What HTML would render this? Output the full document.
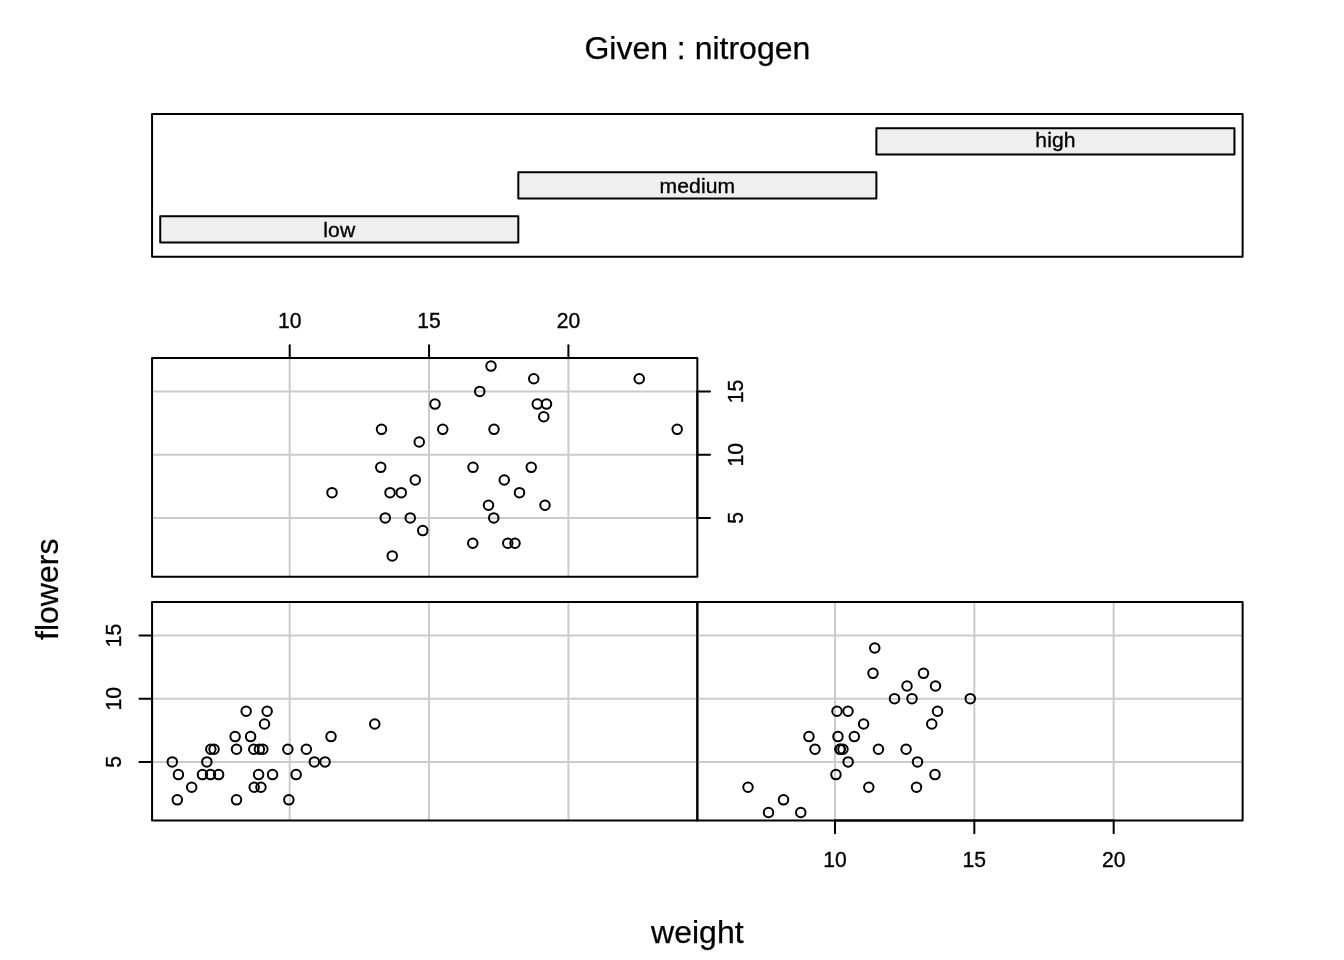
<!DOCTYPE html>
<html lang="en">
<head>
<meta charset="utf-8">
<title>Given : nitrogen</title>
<style>
html,body{margin:0;padding:0;background:#fff;}
svg{display:block;}
text{font-family:"Liberation Sans",Arial,Helvetica,sans-serif;fill:#000;}
.ax{font-size:21.12px;text-anchor:middle;stroke:#000;stroke-width:0.35px;}
.gl{letter-spacing:0.1px;}
.lab{font-size:32px;text-anchor:middle;stroke:#000;stroke-width:0.25px;}
.k{stroke:#000;stroke-width:2;fill:none;stroke-linecap:round;stroke-linejoin:round;}
.g{stroke:#cbcbcb;stroke-width:2;fill:none;stroke-linecap:round;}
.p{stroke:#000;stroke-width:2;fill:none;}
.bar{fill:#efefef;stroke:#000;stroke-width:2;stroke-linejoin:round;}
</style>
</head>
<body>
<svg width="1344" height="960" viewBox="0 0 1344 960">
<rect x="0" y="0" width="1344" height="960" fill="#fff"/>
<g id="given">
<rect class="bar" x="160.23" y="216.15" width="358.08" height="26.41"/>
<rect class="bar" x="518.31" y="172.14" width="358.08" height="26.41"/>
<rect class="bar" x="876.38" y="128.13" width="358.08" height="26.41"/>
<text class="ax gl" x="339.32" y="236.91">low</text>
<text class="ax gl" x="697.39" y="192.9">medium</text>
<text class="ax gl" x="1055.47" y="146.68">high</text>
<rect class="k" x="152.06" y="114.05" width="1090.56" height="142.59"/>
<text class="lab" x="697.34" y="58.89">Given : nitrogen</text>
</g>
<g id="panel-high">
<line class="g" x1="289.7" y1="358.02" x2="289.7" y2="576.64"/>
<line class="g" x1="429.05" y1="358.02" x2="429.05" y2="576.64"/>
<line class="g" x1="568.4" y1="358.02" x2="568.4" y2="576.64"/>
<line class="g" x1="152.06" y1="517.94" x2="697.34" y2="517.94"/>
<line class="g" x1="152.06" y1="454.68" x2="697.34" y2="454.68"/>
<line class="g" x1="152.06" y1="391.42" x2="697.34" y2="391.42"/>
<circle class="p" cx="491" cy="366.11" r="4.75"/>
<circle class="p" cx="533.75" cy="378.77" r="4.75"/>
<circle class="p" cx="639.25" cy="378.77" r="4.75"/>
<circle class="p" cx="479.75" cy="391.42" r="4.75"/>
<circle class="p" cx="435" cy="404.07" r="4.75"/>
<circle class="p" cx="537.25" cy="404.07" r="4.75"/>
<circle class="p" cx="546.5" cy="404.07" r="4.75"/>
<circle class="p" cx="543.75" cy="416.72" r="4.75"/>
<circle class="p" cx="381.5" cy="429.37" r="4.75"/>
<circle class="p" cx="442.75" cy="429.37" r="4.75"/>
<circle class="p" cx="494" cy="429.37" r="4.75"/>
<circle class="p" cx="677.2" cy="429.37" r="4.75"/>
<circle class="p" cx="419.25" cy="442.02" r="4.75"/>
<circle class="p" cx="380.75" cy="467.33" r="4.75"/>
<circle class="p" cx="473" cy="467.33" r="4.75"/>
<circle class="p" cx="531.25" cy="467.33" r="4.75"/>
<circle class="p" cx="415.25" cy="479.98" r="4.75"/>
<circle class="p" cx="504.25" cy="479.98" r="4.75"/>
<circle class="p" cx="332" cy="492.63" r="4.75"/>
<circle class="p" cx="390" cy="492.63" r="4.75"/>
<circle class="p" cx="401.25" cy="492.63" r="4.75"/>
<circle class="p" cx="519.5" cy="492.63" r="4.75"/>
<circle class="p" cx="488.5" cy="505.28" r="4.75"/>
<circle class="p" cx="545" cy="505.28" r="4.75"/>
<circle class="p" cx="385.25" cy="517.94" r="4.75"/>
<circle class="p" cx="410.25" cy="517.94" r="4.75"/>
<circle class="p" cx="493.75" cy="517.94" r="4.75"/>
<circle class="p" cx="422.75" cy="530.59" r="4.75"/>
<circle class="p" cx="472.75" cy="543.24" r="4.75"/>
<circle class="p" cx="507.75" cy="543.24" r="4.75"/>
<circle class="p" cx="515" cy="543.24" r="4.75"/>
<circle class="p" cx="392.25" cy="555.89" r="4.75"/>
</g>
<g id="axis-top">
<line class="k" x1="289.7" y1="358.02" x2="568.4" y2="358.02"/>
<line class="k" x1="289.7" y1="358.02" x2="289.7" y2="345.34"/>
<text class="ax" transform="translate(289.7 327.9) scale(1 1.045)">10</text>
<line class="k" x1="429.05" y1="358.02" x2="429.05" y2="345.34"/>
<text class="ax" transform="translate(429.05 327.9) scale(1 1.045)">15</text>
<line class="k" x1="568.4" y1="358.02" x2="568.4" y2="345.34"/>
<text class="ax" transform="translate(568.4 327.9) scale(1 1.045)">20</text>
</g>
<g id="axis-right">
<line class="k" x1="697.34" y1="517.94" x2="697.34" y2="391.42"/>
<line class="k" x1="697.34" y1="517.94" x2="710.02" y2="517.94"/>
<text class="ax" transform="translate(742.51 517.94) rotate(-90) scale(1 1.045)">5</text>
<line class="k" x1="697.34" y1="454.68" x2="710.02" y2="454.68"/>
<text class="ax" transform="translate(742.51 454.68) rotate(-90) scale(1 1.045)">10</text>
<line class="k" x1="697.34" y1="391.42" x2="710.02" y2="391.42"/>
<text class="ax" transform="translate(742.51 391.42) rotate(-90) scale(1 1.045)">15</text>
</g>
<rect class="k" x="152.06" y="358.02" width="545.28" height="218.62"/>
<g id="panel-low">
<line class="g" x1="289.7" y1="601.98" x2="289.7" y2="820.61"/>
<line class="g" x1="429.05" y1="601.98" x2="429.05" y2="820.61"/>
<line class="g" x1="568.4" y1="601.98" x2="568.4" y2="820.61"/>
<line class="g" x1="152.06" y1="761.9" x2="697.34" y2="761.9"/>
<line class="g" x1="152.06" y1="698.64" x2="697.34" y2="698.64"/>
<line class="g" x1="152.06" y1="635.38" x2="697.34" y2="635.38"/>
<circle class="p" cx="246.15" cy="711.3" r="4.75"/>
<circle class="p" cx="267.15" cy="711.3" r="4.75"/>
<circle class="p" cx="264.5" cy="723.95" r="4.75"/>
<circle class="p" cx="374.75" cy="723.95" r="4.75"/>
<circle class="p" cx="235.1" cy="736.6" r="4.75"/>
<circle class="p" cx="250.6" cy="736.6" r="4.75"/>
<circle class="p" cx="331" cy="736.6" r="4.75"/>
<circle class="p" cx="210.8" cy="749.25" r="4.75"/>
<circle class="p" cx="214.05" cy="749.25" r="4.75"/>
<circle class="p" cx="236.5" cy="749.25" r="4.75"/>
<circle class="p" cx="253.75" cy="749.25" r="4.75"/>
<circle class="p" cx="259.4" cy="749.25" r="4.75"/>
<circle class="p" cx="262.85" cy="749.25" r="4.75"/>
<circle class="p" cx="287.85" cy="749.25" r="4.75"/>
<circle class="p" cx="306.35" cy="749.25" r="4.75"/>
<circle class="p" cx="172.3" cy="761.9" r="4.75"/>
<circle class="p" cx="206.85" cy="761.9" r="4.75"/>
<circle class="p" cx="314.35" cy="761.9" r="4.75"/>
<circle class="p" cx="325.05" cy="761.9" r="4.75"/>
<circle class="p" cx="178.4" cy="774.56" r="4.75"/>
<circle class="p" cx="202.45" cy="774.56" r="4.75"/>
<circle class="p" cx="210.5" cy="774.56" r="4.75"/>
<circle class="p" cx="218.6" cy="774.56" r="4.75"/>
<circle class="p" cx="258.6" cy="774.56" r="4.75"/>
<circle class="p" cx="272.55" cy="774.56" r="4.75"/>
<circle class="p" cx="296.15" cy="774.56" r="4.75"/>
<circle class="p" cx="191.7" cy="787.21" r="4.75"/>
<circle class="p" cx="254.2" cy="787.21" r="4.75"/>
<circle class="p" cx="260.95" cy="787.21" r="4.75"/>
<circle class="p" cx="177.3" cy="799.86" r="4.75"/>
<circle class="p" cx="236.5" cy="799.86" r="4.75"/>
<circle class="p" cx="288.85" cy="799.86" r="4.75"/>
</g>
<g id="axis-left">
<line class="k" x1="152.06" y1="761.9" x2="152.06" y2="635.38"/>
<line class="k" x1="152.06" y1="761.9" x2="139.39" y2="761.9"/>
<text class="ax" transform="translate(121.2 761.9) rotate(-90) scale(1 1.045)">5</text>
<line class="k" x1="152.06" y1="698.64" x2="139.39" y2="698.64"/>
<text class="ax" transform="translate(121.2 698.64) rotate(-90) scale(1 1.045)">10</text>
<line class="k" x1="152.06" y1="635.38" x2="139.39" y2="635.38"/>
<text class="ax" transform="translate(121.2 635.38) rotate(-90) scale(1 1.045)">15</text>
</g>
<rect class="k" x="152.06" y="601.98" width="545.28" height="218.62"/>
<g id="panel-medium">
<line class="g" x1="834.98" y1="601.98" x2="834.98" y2="820.61"/>
<line class="g" x1="974.33" y1="601.98" x2="974.33" y2="820.61"/>
<line class="g" x1="1113.68" y1="601.98" x2="1113.68" y2="820.61"/>
<line class="g" x1="697.34" y1="761.9" x2="1242.62" y2="761.9"/>
<line class="g" x1="697.34" y1="698.64" x2="1242.62" y2="698.64"/>
<line class="g" x1="697.34" y1="635.38" x2="1242.62" y2="635.38"/>
<circle class="p" cx="874.75" cy="648.04" r="4.75"/>
<circle class="p" cx="873" cy="673.34" r="4.75"/>
<circle class="p" cx="923.5" cy="673.34" r="4.75"/>
<circle class="p" cx="907" cy="685.99" r="4.75"/>
<circle class="p" cx="935.5" cy="685.99" r="4.75"/>
<circle class="p" cx="894.5" cy="698.64" r="4.75"/>
<circle class="p" cx="912" cy="698.64" r="4.75"/>
<circle class="p" cx="970.25" cy="698.64" r="4.75"/>
<circle class="p" cx="837" cy="711.3" r="4.75"/>
<circle class="p" cx="848" cy="711.3" r="4.75"/>
<circle class="p" cx="937.5" cy="711.3" r="4.75"/>
<circle class="p" cx="863.6" cy="723.95" r="4.75"/>
<circle class="p" cx="931.75" cy="723.95" r="4.75"/>
<circle class="p" cx="808.95" cy="736.6" r="4.75"/>
<circle class="p" cx="837.95" cy="736.6" r="4.75"/>
<circle class="p" cx="854.3" cy="736.6" r="4.75"/>
<circle class="p" cx="815" cy="749.25" r="4.75"/>
<circle class="p" cx="839.9" cy="749.25" r="4.75"/>
<circle class="p" cx="840.35" cy="749.25" r="4.75"/>
<circle class="p" cx="842.95" cy="749.25" r="4.75"/>
<circle class="p" cx="878.45" cy="749.25" r="4.75"/>
<circle class="p" cx="906.1" cy="749.25" r="4.75"/>
<circle class="p" cx="848.15" cy="761.9" r="4.75"/>
<circle class="p" cx="917.5" cy="761.9" r="4.75"/>
<circle class="p" cx="835.95" cy="774.56" r="4.75"/>
<circle class="p" cx="935" cy="774.56" r="4.75"/>
<circle class="p" cx="748" cy="787.21" r="4.75"/>
<circle class="p" cx="868.8" cy="787.21" r="4.75"/>
<circle class="p" cx="916.5" cy="787.21" r="4.75"/>
<circle class="p" cx="783.5" cy="799.86" r="4.75"/>
<circle class="p" cx="768.5" cy="812.51" r="4.75"/>
<circle class="p" cx="800.75" cy="812.51" r="4.75"/>
</g>
<g id="axis-bottom">
<line class="k" x1="834.98" y1="820.61" x2="1113.68" y2="820.61"/>
<line class="k" x1="834.98" y1="820.61" x2="834.98" y2="833.28"/>
<text class="ax" transform="translate(834.98 866.73) scale(1 1.045)">10</text>
<line class="k" x1="974.33" y1="820.61" x2="974.33" y2="833.28"/>
<text class="ax" transform="translate(974.33 866.73) scale(1 1.045)">15</text>
<line class="k" x1="1113.68" y1="820.61" x2="1113.68" y2="833.28"/>
<text class="ax" transform="translate(1113.68 866.73) scale(1 1.045)">20</text>
</g>
<rect class="k" x="697.34" y="601.98" width="545.28" height="218.62"/>
<text class="lab" x="697.34" y="942.96">weight</text>
<text class="lab" transform="translate(58.29 589.31) rotate(-90)">flowers</text>
</svg>
</body>
</html>
